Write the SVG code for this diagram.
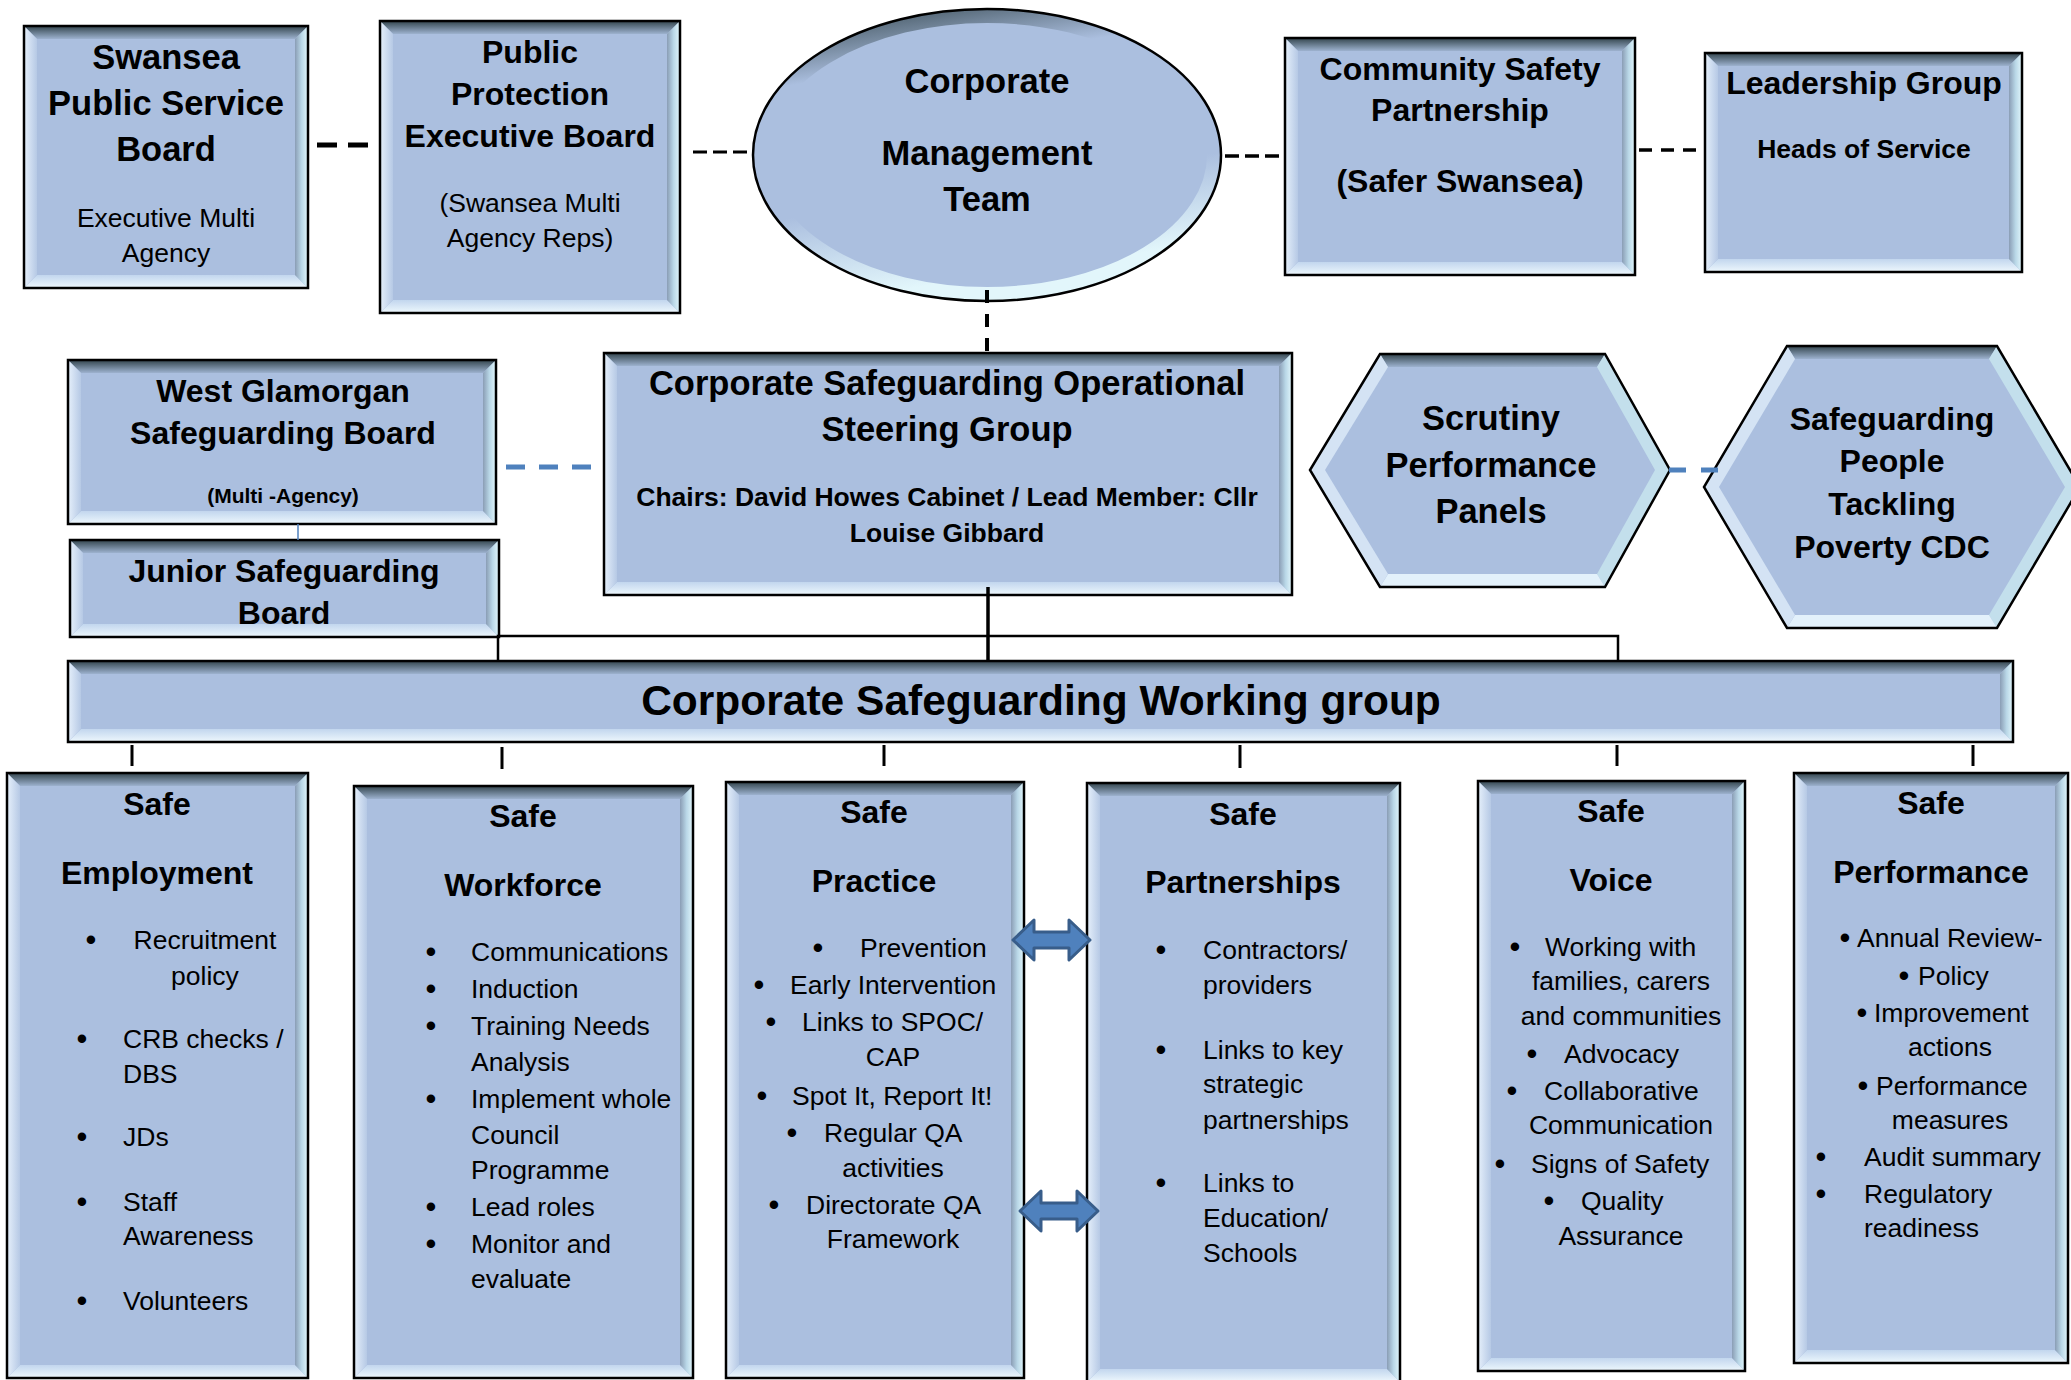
<svg xmlns="http://www.w3.org/2000/svg" width="2071" height="1380" viewBox="0 0 2071 1380">
<defs>
<style>
text { font-family: "Liberation Sans", Arial, sans-serif; fill: #000; }
.c { text-anchor: middle; }
.h43 { font-size: 42.5px; font-weight: bold; }
.h34 { font-size: 34.5px; font-weight: bold; }
.h32 { font-size: 32px; font-weight: bold; }
.b26 { font-size: 26.5px; font-weight: bold; }
.b21 { font-size: 21px; font-weight: bold; }
.t { font-size: 26.5px; }
.u { font-size: 31px; text-anchor: middle; }
.base { fill: #abbfdf; }
.edge { fill: none; stroke: #000; stroke-width: 2.5; }
.bt { fill: url(#gTop); }
.bb { fill: url(#gBot); }
.bl { fill: url(#gLeft); }
.br { fill: url(#gRight); }
.hl { fill: #d4e3f4; }
.hr { fill: #c3dfec; }
.hb { fill: #e3f1fb; }
.dk { fill: none; stroke: #000; }
.blue { fill: none; stroke: #4f81bd; }
.arrow { fill: #4f81bd; stroke: #385d8a; stroke-width: 3; stroke-linejoin: round; }
</style>
<linearGradient id="gTop" x1="0" y1="0" x2="0" y2="1"><stop offset="0" stop-color="#33454d"/><stop offset="1" stop-color="#9db2cf"/></linearGradient>
<linearGradient id="gBot" x1="0" y1="0" x2="0" y2="1"><stop offset="0" stop-color="#c2d6ee"/><stop offset="1" stop-color="#eef8fd"/></linearGradient>
<linearGradient id="gLeft" x1="0" y1="0" x2="1" y2="0"><stop offset="0" stop-color="#e6f0fb"/><stop offset="1" stop-color="#b6c9e5"/></linearGradient>
<linearGradient id="gRight" x1="0" y1="0" x2="1" y2="0"><stop offset="0" stop-color="#8a9db5"/><stop offset="0.5" stop-color="#b9d7e7"/><stop offset="1" stop-color="#e2f7fc"/></linearGradient>
<linearGradient id="gRim" x1="0" y1="0" x2="0.25" y2="1"><stop offset="0" stop-color="#33454d"/><stop offset="0.25" stop-color="#abbfdf"/><stop offset="0.7" stop-color="#abbfdf"/><stop offset="1" stop-color="#e2f6fb"/></linearGradient>
</defs>
<rect width="2071" height="1380" fill="#fff"/>

<g id="swansea-psb">
<rect class="base" x="24" y="26" width="284" height="262"/>
<polygon class="bt" points="24,26 308,26 295,39 37,39"/>
<polygon class="bb" points="24,288 308,288 295,275 37,275"/>
<polygon class="bl" points="24,26 37,39 37,275 24,288"/>
<polygon class="br" points="308,26 295,39 295,275 308,288"/>
<rect class="edge" x="24" y="26" width="284" height="262"/>
<text class="c h34" x="166" y="69">Swansea</text>
<text class="c h34" x="166" y="115">Public Service</text>
<text class="c h34" x="166" y="161">Board</text>
<text class="c t" x="166" y="227">Executive Multi</text>
<text class="c t" x="166" y="262">Agency</text>
</g>

<g id="public-protection">
<rect class="base" x="380" y="21" width="300" height="292"/>
<polygon class="bt" points="380,21 680,21 667,34 393,34"/>
<polygon class="bb" points="380,313 680,313 667,300 393,300"/>
<polygon class="bl" points="380,21 393,34 393,300 380,313"/>
<polygon class="br" points="680,21 667,34 667,300 680,313"/>
<rect class="edge" x="380" y="21" width="300" height="292"/>
<text class="c h32" x="530" y="63">Public</text>
<text class="c h32" x="530" y="105">Protection</text>
<text class="c h32" x="530" y="147">Executive Board</text>
<text class="c t" x="530" y="212">(Swansea Multi</text>
<text class="c t" x="530" y="247">Agency Reps)</text>
</g>

<g id="corporate-management-team">
<ellipse class="base" cx="987" cy="155" rx="234" ry="146"/>
<ellipse cx="987" cy="155" rx="227" ry="139" fill="none" stroke="url(#gRim)" stroke-width="14"/>
<ellipse class="edge" cx="987" cy="155" rx="234" ry="146"/>
<text class="c h34" x="987" y="93">Corporate</text>
<text class="c h34" x="987" y="165">Management</text>
<text class="c h34" x="987" y="211">Team</text>
</g>

<g id="community-safety">
<rect class="base" x="1285" y="38" width="350" height="237"/>
<polygon class="bt" points="1285,38 1635,38 1622,51 1298,51"/>
<polygon class="bb" points="1285,275 1635,275 1622,262 1298,262"/>
<polygon class="bl" points="1285,38 1298,51 1298,262 1285,275"/>
<polygon class="br" points="1635,38 1622,51 1622,262 1635,275"/>
<rect class="edge" x="1285" y="38" width="350" height="237"/>
<text class="c h32" x="1460" y="80">Community Safety</text>
<text class="c h32" x="1460" y="121">Partnership</text>
<text class="c h32" x="1460" y="192">(Safer Swansea)</text>
</g>

<g id="leadership-group">
<rect class="base" x="1705" y="53" width="317" height="219"/>
<polygon class="bt" points="1705,53 2022,53 2009,66 1718,66"/>
<polygon class="bb" points="1705,272 2022,272 2009,259 1718,259"/>
<polygon class="bl" points="1705,53 1718,66 1718,259 1705,272"/>
<polygon class="br" points="2022,53 2009,66 2009,259 2022,272"/>
<rect class="edge" x="1705" y="53" width="317" height="219"/>
<text class="c h32" x="1864" y="94">Leadership Group</text>
<text class="c b26" x="1864" y="158">Heads of Service</text>
</g>

<g id="west-glamorgan">
<rect class="base" x="68" y="360" width="428" height="164"/>
<polygon class="bt" points="68,360 496,360 483,373 81,373"/>
<polygon class="bb" points="68,524 496,524 483,511 81,511"/>
<polygon class="bl" points="68,360 81,373 81,511 68,524"/>
<polygon class="br" points="496,360 483,373 483,511 496,524"/>
<rect class="edge" x="68" y="360" width="428" height="164"/>
<text class="c h32" x="283" y="402">West Glamorgan</text>
<text class="c h32" x="283" y="444">Safeguarding Board</text>
<text class="c b21" x="283" y="503">(Multi -Agency)</text>
</g>

<g id="junior-safeguarding">
<rect class="base" x="70" y="540" width="429" height="97"/>
<polygon class="bt" points="70,540 499,540 486,553 83,553"/>
<polygon class="bb" points="70,637 499,637 486,624 83,624"/>
<polygon class="bl" points="70,540 83,553 83,624 70,637"/>
<polygon class="br" points="499,540 486,553 486,624 499,637"/>
<rect class="edge" x="70" y="540" width="429" height="97"/>
<text class="c h32" x="284" y="582">Junior Safeguarding</text>
<text class="c h32" x="284" y="624">Board</text>
</g>

<g id="steering-group">
<rect class="base" x="604" y="353" width="688" height="242"/>
<polygon class="bt" points="604,353 1292,353 1279,366 617,366"/>
<polygon class="bb" points="604,595 1292,595 1279,582 617,582"/>
<polygon class="bl" points="604,353 617,366 617,582 604,595"/>
<polygon class="br" points="1292,353 1279,366 1279,582 1292,595"/>
<rect class="edge" x="604" y="353" width="688" height="242"/>
<text class="c h34" x="947" y="395">Corporate Safeguarding Operational</text>
<text class="c h34" x="947" y="441">Steering Group</text>
<text class="c b26" x="947" y="506">Chairs: David Howes Cabinet / Lead Member: Cllr</text>
<text class="c b26" x="947" y="542">Louise Gibbard</text>
</g>

<g id="scrutiny-panels">
<polygon class="base" points="1380,354 1605,354 1670,470 1605,587 1380,587 1310,470"/>
<polygon class="bt" points="1380,354 1605,354 1597,367 1388,367"/>
<polygon class="hr" points="1605,354 1670,470 1655,470 1597,367"/>
<polygon class="hr" points="1670,470 1605,587 1597,574 1655,470"/>
<polygon class="hb" points="1605,587 1380,587 1388,574 1597,574"/>
<polygon class="hl" points="1380,587 1310,470 1325,470 1388,574"/>
<polygon class="hl" points="1310,470 1380,354 1388,367 1325,470"/>
<polygon class="edge" points="1380,354 1605,354 1670,470 1605,587 1380,587 1310,470"/>
<text class="c h34" x="1491" y="430">Scrutiny</text>
<text class="c h34" x="1491" y="477">Performance</text>
<text class="c h34" x="1491" y="523">Panels</text>
</g>

<g id="safeguarding-people-cdc">
<polygon class="base" points="1787,346 1997,346 2080,487 1997,628 1787,628 1704,487"/>
<polygon class="bt" points="1787,346 1997,346 1989,359 1795,359"/>
<polygon class="hr" points="1997,346 2080,487 2065,487 1989,359"/>
<polygon class="hr" points="2080,487 1997,628 1989,615 2065,487"/>
<polygon class="hb" points="1997,628 1787,628 1795,615 1989,615"/>
<polygon class="hl" points="1787,628 1704,487 1719,487 1795,615"/>
<polygon class="hl" points="1704,487 1787,346 1795,359 1719,487"/>
<polygon class="edge" points="1787,346 1997,346 2080,487 1997,628 1787,628 1704,487"/>
<text class="c h32" x="1892" y="430">Safeguarding</text>
<text class="c h32" x="1892" y="472">People</text>
<text class="c h32" x="1892" y="515">Tackling</text>
<text class="c h32" x="1892" y="558">Poverty CDC</text>
</g>

<g id="working-group">
<rect class="base" x="68" y="661" width="1945" height="81"/>
<polygon class="bt" points="68,661 2013,661 2000,674 81,674"/>
<polygon class="bb" points="68,742 2013,742 2000,729 81,729"/>
<polygon class="bl" points="68,661 81,674 81,729 68,742"/>
<polygon class="br" points="2013,661 2000,674 2000,729 2013,742"/>
<rect class="edge" x="68" y="661" width="1945" height="81"/>
<text class="c h43" x="1041" y="715">Corporate Safeguarding Working group</text>
</g>

<g id="safe-employment">
<rect class="base" x="7" y="773" width="301" height="605"/>
<polygon class="bt" points="7,773 308,773 295,786 20,786"/>
<polygon class="bb" points="7,1378 308,1378 295,1365 20,1365"/>
<polygon class="bl" points="7,773 20,786 20,1365 7,1378"/>
<polygon class="br" points="308,773 295,786 295,1365 308,1378"/>
<rect class="edge" x="7" y="773" width="301" height="605"/>
<text class="c h32" x="157" y="815">Safe</text>
<text class="c h32" x="157" y="884">Employment</text>
<text class="u" x="91" y="950">•</text>
<text class="c t" x="205" y="949">Recruitment</text>
<text class="c t" x="205" y="985">policy</text>
<text class="u" x="82" y="1049">•</text>
<text class="t" x="123" y="1048">CRB checks /</text>
<text class="t" x="123" y="1083">DBS</text>
<text class="u" x="82" y="1147">•</text>
<text class="t" x="123" y="1146">JDs</text>
<text class="u" x="82" y="1212">•</text>
<text class="t" x="123" y="1211">Staff</text>
<text class="t" x="123" y="1245">Awareness</text>
<text class="u" x="82" y="1311">•</text>
<text class="t" x="123" y="1310">Volunteers</text>
</g>

<g id="safe-workforce">
<rect class="base" x="354" y="786" width="339" height="592"/>
<polygon class="bt" points="354,786 693,786 680,799 367,799"/>
<polygon class="bb" points="354,1378 693,1378 680,1365 367,1365"/>
<polygon class="bl" points="354,786 367,799 367,1365 354,1378"/>
<polygon class="br" points="693,786 680,799 680,1365 693,1378"/>
<rect class="edge" x="354" y="786" width="339" height="592"/>
<text class="c h32" x="523" y="827">Safe</text>
<text class="c h32" x="523" y="896">Workforce</text>
<text class="u" x="431" y="962">•</text>
<text class="t" x="471" y="961">Communications</text>
<text class="u" x="431" y="999">•</text>
<text class="t" x="471" y="998">Induction</text>
<text class="u" x="431" y="1036">•</text>
<text class="t" x="471" y="1035">Training Needs</text>
<text class="t" x="471" y="1071">Analysis</text>
<text class="u" x="431" y="1109">•</text>
<text class="t" x="471" y="1108">Implement whole</text>
<text class="t" x="471" y="1144">Council</text>
<text class="t" x="471" y="1179">Programme</text>
<text class="u" x="431" y="1217">•</text>
<text class="t" x="471" y="1216">Lead roles</text>
<text class="u" x="431" y="1254">•</text>
<text class="t" x="471" y="1253">Monitor and</text>
<text class="t" x="471" y="1288">evaluate</text>
</g>

<g id="safe-practice">
<rect class="base" x="726" y="782" width="298" height="596"/>
<polygon class="bt" points="726,782 1024,782 1011,795 739,795"/>
<polygon class="bb" points="726,1378 1024,1378 1011,1365 739,1365"/>
<polygon class="bl" points="726,782 739,795 739,1365 726,1378"/>
<polygon class="br" points="1024,782 1011,795 1011,1365 1024,1378"/>
<rect class="edge" x="726" y="782" width="298" height="596"/>
<text class="c h32" x="874" y="823">Safe</text>
<text class="c h32" x="874" y="892">Practice</text>
<text class="u" x="818" y="958">•</text>
<text class="t" x="860" y="957">Prevention</text>
<text class="u" x="759" y="995">•</text>
<text class="t" x="790" y="994">Early Intervention</text>
<text class="u" x="771" y="1032">•</text>
<text class="t" x="802" y="1031">Links to SPOC/</text>
<text class="c t" x="893" y="1066">CAP</text>
<text class="u" x="762" y="1106">•</text>
<text class="t" x="792" y="1105">Spot It, Report It!</text>
<text class="u" x="792" y="1143">•</text>
<text class="t" x="824" y="1142">Regular QA</text>
<text class="c t" x="893" y="1177">activities</text>
<text class="u" x="774" y="1215">•</text>
<text class="t" x="806" y="1214">Directorate QA</text>
<text class="c t" x="893" y="1248">Framework</text>
</g>

<g id="safe-partnerships">
<rect class="base" x="1087" y="783" width="313" height="599"/>
<polygon class="bt" points="1087,783 1400,783 1387,796 1100,796"/>
<polygon class="bb" points="1087,1382 1400,1382 1387,1369 1100,1369"/>
<polygon class="bl" points="1087,783 1100,796 1100,1369 1087,1382"/>
<polygon class="br" points="1400,783 1387,796 1387,1369 1400,1382"/>
<rect class="edge" x="1087" y="783" width="313" height="599"/>
<text class="c h32" x="1243" y="825">Safe</text>
<text class="c h32" x="1243" y="893">Partnerships</text>
<text class="u" x="1161" y="960">•</text>
<text class="t" x="1203" y="959">Contractors/</text>
<text class="t" x="1203" y="994">providers</text>
<text class="u" x="1161" y="1060">•</text>
<text class="t" x="1203" y="1059">Links to key</text>
<text class="t" x="1203" y="1093">strategic</text>
<text class="t" x="1203" y="1129">partnerships</text>
<text class="u" x="1161" y="1193">•</text>
<text class="t" x="1203" y="1192">Links to</text>
<text class="t" x="1203" y="1227">Education/</text>
<text class="t" x="1203" y="1262">Schools</text>
</g>

<g id="safe-voice">
<rect class="base" x="1478" y="781" width="267" height="590"/>
<polygon class="bt" points="1478,781 1745,781 1732,794 1491,794"/>
<polygon class="bb" points="1478,1371 1745,1371 1732,1358 1491,1358"/>
<polygon class="bl" points="1478,781 1491,794 1491,1358 1478,1371"/>
<polygon class="br" points="1745,781 1732,794 1732,1358 1745,1371"/>
<rect class="edge" x="1478" y="781" width="267" height="590"/>
<text class="c h32" x="1611" y="822">Safe</text>
<text class="c h32" x="1611" y="891">Voice</text>
<text class="u" x="1515" y="957">•</text>
<text class="t" x="1545" y="956">Working with</text>
<text class="c t" x="1621" y="990">families, carers</text>
<text class="c t" x="1621" y="1025">and communities</text>
<text class="u" x="1532" y="1064">•</text>
<text class="t" x="1564" y="1063">Advocacy</text>
<text class="u" x="1512" y="1101">•</text>
<text class="t" x="1544" y="1100">Collaborative</text>
<text class="c t" x="1621" y="1134">Communication</text>
<text class="u" x="1500" y="1174">•</text>
<text class="t" x="1531" y="1173">Signs of Safety</text>
<text class="u" x="1549" y="1211">•</text>
<text class="t" x="1581" y="1210">Quality</text>
<text class="c t" x="1621" y="1245">Assurance</text>
</g>

<g id="safe-performance">
<rect class="base" x="1794" y="773" width="274" height="590"/>
<polygon class="bt" points="1794,773 2068,773 2055,786 1807,786"/>
<polygon class="bb" points="1794,1363 2068,1363 2055,1350 1807,1350"/>
<polygon class="bl" points="1794,773 1807,786 1807,1350 1794,1363"/>
<polygon class="br" points="2068,773 2055,786 2055,1350 2068,1363"/>
<rect class="edge" x="1794" y="773" width="274" height="590"/>
<text class="c h32" x="1931" y="814">Safe</text>
<text class="c h32" x="1931" y="883">Performance</text>
<text class="u" x="1845" y="948">•</text>
<text class="t" x="1857" y="947">Annual Review-</text>
<text class="u" x="1904" y="986">•</text>
<text class="t" x="1918" y="985">Policy</text>
<text class="u" x="1862" y="1023">•</text>
<text class="t" x="1874" y="1022">Improvement</text>
<text class="c t" x="1950" y="1056">actions</text>
<text class="u" x="1863" y="1096">•</text>
<text class="t" x="1876" y="1095">Performance</text>
<text class="c t" x="1950" y="1129">measures</text>
<text class="u" x="1821" y="1167">•</text>
<text class="t" x="1864" y="1166">Audit summary</text>
<text class="u" x="1821" y="1204">•</text>
<text class="t" x="1864" y="1203">Regulatory</text>
<text class="t" x="1864" y="1237">readiness</text>
</g>

<g id="connectors">
<line class="dk" x1="317" y1="145" x2="372" y2="145" stroke-width="5" stroke-dasharray="20 11"/>
<line class="dk" x1="693" y1="152" x2="752" y2="152" stroke-width="3" stroke-dasharray="14 6"/>
<line class="dk" x1="1225" y1="156" x2="1285" y2="156" stroke-width="3.5" stroke-dasharray="14 6"/>
<line class="dk" x1="1639" y1="150" x2="1702" y2="150" stroke-width="3.5" stroke-dasharray="13 9"/>
<line class="dk" x1="987" y1="290" x2="987" y2="352" stroke-width="4" stroke-dasharray="13 11"/>
<line class="blue" x1="506" y1="467" x2="594" y2="467" stroke-width="5" stroke-dasharray="19 14"/>
<line class="blue" x1="298" y1="524" x2="298" y2="540" stroke-width="1.5"/>
<line class="blue" x1="1669" y1="470" x2="1720" y2="470" stroke-width="5" stroke-dasharray="17 15"/>
<line class="dk" x1="988" y1="587" x2="988" y2="661" stroke-width="3.5"/>
<polyline class="dk" points="498,661 498,636 1618,636 1618,661" stroke-width="2.5"/>
<line class="dk" x1="132" y1="745" x2="132" y2="766" stroke-width="3"/>
<line class="dk" x1="502" y1="747" x2="502" y2="769" stroke-width="3"/>
<line class="dk" x1="884" y1="745" x2="884" y2="766" stroke-width="3"/>
<line class="dk" x1="1240" y1="745" x2="1240" y2="768" stroke-width="3"/>
<line class="dk" x1="1617" y1="745" x2="1617" y2="766" stroke-width="3"/>
<line class="dk" x1="1973" y1="745" x2="1973" y2="766" stroke-width="3"/>
<path class="arrow" d="M1013,940 L1034,920 L1034,932 L1069,932 L1069,920 L1090,940 L1069,960 L1069,948 L1034,948 L1034,960 Z"/>
<path class="arrow" d="M1020,1211 L1041,1191 L1041,1203 L1077,1203 L1077,1191 L1098,1211 L1077,1231 L1077,1219 L1041,1219 L1041,1231 Z"/>
</g>
</svg>
